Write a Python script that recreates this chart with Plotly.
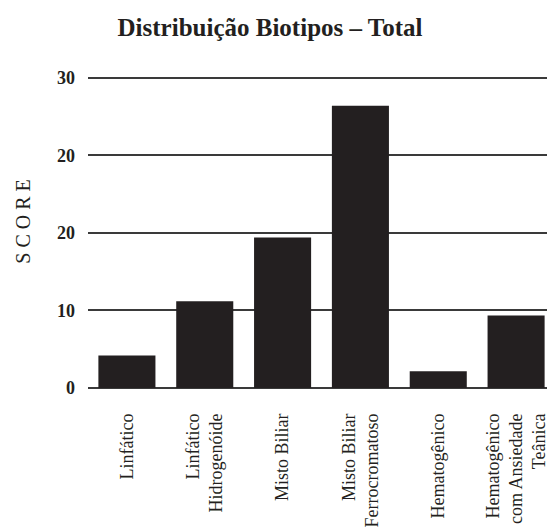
import plotly.graph_objects as go

categories = [
    "Linfático",
    "Linfático<br>Hidrogenóide",
    "Misto Biliar",
    "Misto Biliar<br>Ferrocromatoso",
    "Hematogênico",
    "Hematogênico<br>com Ansiedade<br>Teânica",
]
scores = [4.2, 11.2, 19.4, 36.4, 2.15, 9.35]
tick_vals = [0, 10, 20, 30, 40]
tick_text = ["0", "10", "20", "20", "30"]

fig = go.Figure(
    go.Bar(
        x=categories,
        y=scores,
        marker=dict(color="#231f20", line=dict(width=0)),
    )
)

serif = "Liberation Serif, Times New Roman, serif"

# the page body has an 8px default margin, so the figure is drawn 8px smaller and offset
fig.update_layout(
    width=547,
    height=524,
    margin=dict(l=80, r=0, t=66, b=144),
    paper_bgcolor="white",
    plot_bgcolor="white",
    bargap=0.267,
    showlegend=False,
    title=dict(
        text="<b>Distribuição Biotipos – Total</b>",
        font=dict(family=serif, size=25, color="#231f20"),
        x=0.479,
        xanchor="center",
        y=0.963,
        yanchor="middle",
    ),
    font=dict(family=serif, color="#231f20"),
)

fig.update_yaxes(
    range=[0, 40.5],
    tickvals=tick_vals,
    ticktext=tick_text,
    tickfont=dict(family=serif, size=18, color="#231f20", weight="bold"),
    showgrid=True,
    gridcolor="#3a3a3a",
    gridwidth=1.5,
    zeroline=True,
    zerolinecolor="#3a3a3a",
    zerolinewidth=1.5,
    showline=False,
    ticks="",
    ticklabelstandoff=12,
    fixedrange=True,
)

fig.update_xaxes(
    range=[-0.5, 5.5],
    tickangle=-90,
    tickfont=dict(family=serif, size=18, color="#231f20"),
    showgrid=False,
    showline=False,
    ticks="",
    ticklabelstandoff=21,
    fixedrange=True,
)

fig.add_annotation(
    text="S\u2005C\u2005O\u2005R\u2005E",
    xref="paper",
    yref="paper",
    x=-0.141,
    y=0.53,
    textangle=-90,
    showarrow=False,
    font=dict(family=serif, size=20, color="#231f20"),
    xanchor="center",
    yanchor="middle",
)

fig.write_html("out.html")
